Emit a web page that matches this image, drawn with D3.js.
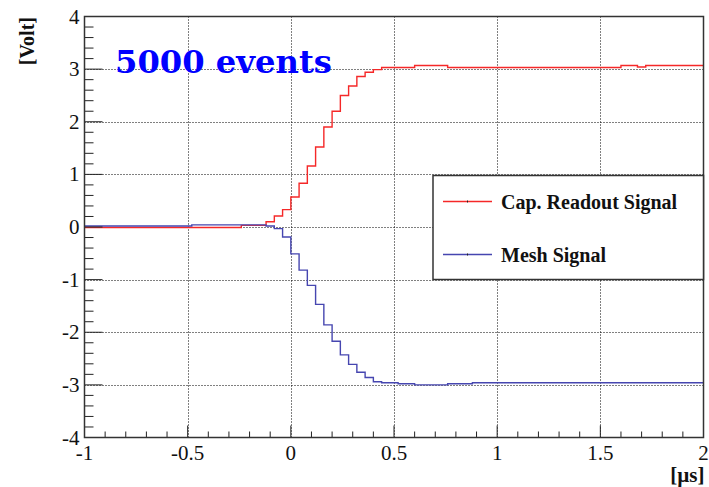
<!DOCTYPE html>
<html><head><meta charset="utf-8">
<script src="https://cdn.jsdelivr.net/npm/d3@7"></script>
<style>body{margin:0;background:#fff}svg{display:block}</style>
</head><body>
<svg id="c" width="709" height="487"></svg>
<script>
// ---- data ----
const binStart = -1, binWidth = 0.04; // 75 bins from -1 to 2 µs
const capReadout = [
  -0.01,-0.01,-0.01,-0.01,-0.01,-0.01,-0.01,-0.01,-0.01,-0.01,
  -0.01,-0.01,-0.01,-0.01,-0.01,-0.01,-0.01,-0.01,-0.01,
  0.03,0.03,0.03,
  0.10,0.21,0.33,0.57,0.83,1.16,1.52,1.90,2.20,2.50,2.68,2.86,2.94,2.99,
  3.03,3.03,3.03,3.03,
  3.07,3.07,3.07,3.07,
  3.03,3.03,3.03,3.03,3.03,3.03,3.03,3.03,3.03,3.03,3.03,3.03,3.03,3.03,3.03,3.03,3.03,3.03,3.03,3.03,3.03,
  3.07,3.07,
  3.04,
  3.07,3.07,3.07,3.07,3.07,3.07,3.07
];
const meshSignal = [
  0.02,0.02,0.02,0.02,0.02,0.02,0.02,0.02,0.02,0.02,0.02,0.02,0.02,
  0.04,0.04,0.04,0.04,0.04,0.04,0.04,0.04,0.04,
  0.02,-0.03,-0.19,-0.51,-0.82,-1.11,-1.47,-1.86,-2.17,-2.43,-2.61,-2.76,-2.86,-2.94,
  -2.96,-2.96,
  -2.98,-2.98,
  -3.00,-3.00,-3.00,-3.00,
  -2.98,-2.98,-2.98,
  -2.96,-2.96,-2.96,-2.96,-2.96,-2.96,-2.96,-2.96,-2.96,-2.96,-2.96,-2.96,-2.96,-2.96,
  -2.96,-2.96,-2.96,-2.96,-2.96,-2.96,-2.96,-2.96,-2.96,-2.96,-2.96,-2.96,-2.96,-2.96
];
const xTicks = [-1,-0.5,0,0.5,1,1.5,2];
const xTickLabels = ["-1","-0.5","0","0.5","1","1.5","2"];
const yTicks = [-4,-3,-2,-1,0,1,2,3,4];
const yTickLabels = ["-4","-3","-2","-1","0","1","2","3","4"];
const seriesNames = ["Cap. Readout Signal","Mesh Signal"];
const seriesColors = ["#f52828","#4646b0"];
const title = "5000 events";
const xTitle = "[\u00b5s]", yTitle = "[Volt]";

// ---- layout ----
const L = 84.5, R = 703.5, T = 16.5, B = 437.5;
const x = d3.scaleLinear().domain([-1,2]).range([L,R]);
const y = d3.scaleLinear().domain([-4,4]).range([B,T]);
const svg = d3.select("#c");
const serif = "'Liberation Serif','Times New Roman',serif";

// grid
const g = svg.append("g").attr("stroke","#000").attr("stroke-width",1).attr("stroke-dasharray","1,2");
xTicks.slice(1,-1).forEach(v=>g.append("line").attr("x1",Math.round(x(v))+0.5).attr("x2",Math.round(x(v))+0.5).attr("y1",T).attr("y2",B));
yTicks.slice(1,-1).forEach(v=>g.append("line").attr("y1",Math.round(y(v))+0.5).attr("y2",Math.round(y(v))+0.5).attr("x1",L).attr("x2",R));

// histograms
function stepPts(vals){
  const pts = vals.map((v,i)=>[binStart+i*binWidth, v]);
  pts.push([binStart+vals.length*binWidth, vals[vals.length-1]]);
  return pts;
}
const line = d3.line().x(d=>x(d[0])).y(d=>y(d[1])).curve(d3.curveStepAfter);
[capReadout, meshSignal].forEach((s,k)=>{
  svg.append("path").attr("d",line(stepPts(s))).attr("fill","none")
    .attr("stroke",seriesColors[k]).attr("stroke-width",1.4);
});

// axis ticks
const ax = svg.append("g").attr("stroke","#222").attr("stroke-width",1);
d3.range(-40,41,2).forEach(k=>{
  const v=k/10, major = (k%10===0);
  ax.append("line").attr("x1",L).attr("x2",L+(major?18:9)).attr("y1",y(v)).attr("y2",y(v));
});
d3.range(-10,21,1).forEach(k=>{
  const v=k/10, major = (k%5===0);
  ax.append("line").attr("y1",B).attr("y2",B-(major?12:6)).attr("x1",x(v)).attr("x2",x(v));
});

// frame
svg.append("rect").attr("x",L).attr("y",T).attr("width",R-L).attr("height",B-T)
  .attr("fill","none").attr("stroke","#333").attr("stroke-width",1.5);

// tick labels
svg.append("g").selectAll("text").data(xTicks).join("text")
  .attr("x",d=>x(d)).attr("y",B+22).attr("text-anchor","middle")
  .attr("font-family",serif).attr("font-size",21).attr("fill","#111")
  .text((d,i)=>xTickLabels[i]);
svg.append("g").selectAll("text").data(yTicks).join("text")
  .attr("x",L-5).attr("y",d=>y(d)+7).attr("text-anchor","end")
  .attr("font-family",serif).attr("font-size",21).attr("fill","#111")
  .text((d,i)=>yTickLabels[i]);

// axis titles
svg.append("text").attr("x",R+1).attr("y",482).attr("text-anchor","end")
  .attr("font-family",serif).attr("font-weight","bold").attr("font-size",21).attr("fill","#111").text(xTitle);
svg.append("text").attr("transform","translate(34,17) rotate(-90)").attr("text-anchor","end")
  .attr("font-family",serif).attr("font-weight","bold").attr("font-size",20).attr("fill","#111").text(yTitle);

// title
svg.append("text").attr("x",115).attr("y",72.5)
  .attr("font-family","'DejaVu Serif',serif").attr("font-weight","bold").attr("font-size",31)
  .attr("fill","#0000ff").attr("textLength",217).attr("lengthAdjust","spacingAndGlyphs").text(title);

// legend
const lg = svg.append("g");
lg.append("rect").attr("x",433).attr("y",175.5).attr("width",R-433).attr("height",104)
  .attr("fill","#fff").attr("stroke","#333").attr("stroke-width",1.5);
[201.5,254.5].forEach((ly,k)=>{
  lg.append("line").attr("x1",443).attr("x2",492).attr("y1",ly).attr("y2",ly)
    .attr("stroke",seriesColors[k]).attr("stroke-width",1.4);
  lg.append("line").attr("x1",467.5).attr("x2",467.5).attr("y1",ly-1).attr("y2",ly+1)
    .attr("stroke","#222").attr("stroke-width",1);
  lg.append("text").attr("x",501).attr("y",ly+7).attr("font-family",serif)
    .attr("font-weight","bold").attr("font-size",20).attr("fill","#111").text(seriesNames[k]);
});
</script>
</body></html>
